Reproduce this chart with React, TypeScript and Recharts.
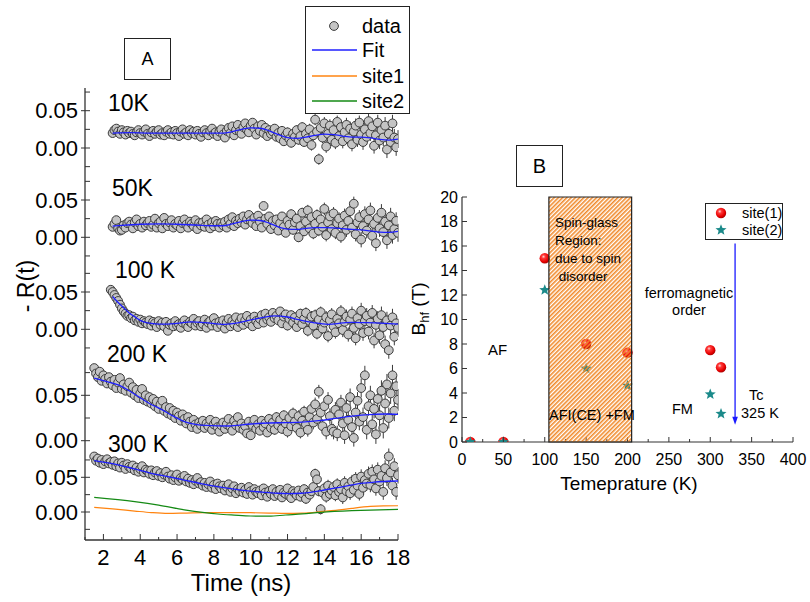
import React from "react";
import {
  ComposedChart,
  Scatter,
  Line,
  XAxis,
  YAxis,
  ErrorBar,
  ReferenceArea,
  ReferenceLine,
  ReferenceDot,
} from "recharts";

const FONT = '"Liberation Sans", Arial, Helvetica, sans-serif';
const AXIS = "#333";

// ---------- panel A : -R(t) spectra (values in 1e-3, one channel every 0.1 ns) ----------
const TEMPS = ["10K", "50K", "100 K", "200 K", "300 K"];
const T_START = [2.5, 2.5, 2.4, 1.5, 1.5];
const T_STEP = 0.1;

const R_10K = [
  20, 24, 26, 22, 19, 24, 21, 18, 23, 20,
  22, 19, 17, 21, 24, 20, 18, 22, 25, 19,
  16, 21, 23, 19, 22, 24, 18, 20, 17, 22,
  24, 19, 21, 18, 23, 20, 16, 22, 25, 19,
  21, 17, 24, 20, 22, 18, 23, 19, 15, 21,
  24, 20, 17, 23, 26, 19, 21, 16, 22, 25,
  18, 14, 23, 27, 20, 29, 17, 24, 31, 22,
  19, 28, 33, 24, 21, 30, 34, 26, 18, 29,
  23, 31, 20, 27, 16, 24, 19, 22, 26, 15,
  20, 13, 23, 9, 17, 21, 12, 7, 19, 15,
  24, 11, 16, 28, 8, 19, 13, 25, 4, 17,
  38, 22, -15, 27, 14, 33, 2, 19, 30, 11,
  24, 7, 35, 16, 28, 9, 21, 31, 13, 26,
  5, 22, 30, 11, 34, 18, 8, 25, 15, 36,
  20, 29, 3, 17, 34, 10, 24, 14, 30, -2,
  19, 8, 33, 14, 1, 12,
];

const R_50K = [
  14, 18, 23, 12, 9, 10, 16, 13, 19, 21,
  17, 12, 20, 24, 15, 18, 13, 21, 16, 19,
  22, 14, 17, 25, 13, 19, 21, 12, 26, 18,
  15, 20, 23, 13, 18, 16, 22, 12, 19, 24,
  17, 13, 21, 18, 15, 23, 11, 19, 16, 20,
  14, 24, 17, 12, 20, 15, 22, 18, 13, 19,
  16, 21, 13, 24, 18, 27, 15, 22, 19, 25,
  20, 28, 17, 24, 30, 22, 19, 26, 15, 29,
  21, 13, 42, 25, 18, 28, 11, 22, 16, 24,
  9, 19, 28, 14, 6, 22, 17, 31, 10, 20,
  25, 0, 15, 33, 8, 21, 36, 12, 27, 5,
  18, 30, 9, 24, 14, 38, 3, 20, 28, 11,
  32, 6, 19, 25, 1, 16, 29, 10, 22, 35,
  13, 45, 4, 20, 27, -3, 15, 31, 9, 24,
  36, 2, 18, -8, 26, 12, 33, 7, 21, -4,
  16, 28, 3, 11, 22, 6,
];

const R_100K = [
  53, 50, 46, 42, 38, 33, 28, 24, 21, 18,
  19, 15, 17, 12, 14, 10, 13, 8, 11, 9,
  7, 12, 5, 10, 8, 3, 11, 6, 9, 4,
  10, -2, 6, 8, 4, 11, 5, 7, 2, 9,
  12, 6, 3, 10, 8, 14, 5, 9, 11, 4,
  7, 13, 2, 9, 11, 5, 15, 8, 3, 10,
  6, 12, 1, 9, 14, 4, 11, 7, 16, 3,
  10, 15, 6, 12, 18, 8, 13, 4, 17, 11,
  7, 14, 19, 9, 21, 13, 16, 10, 22, 15,
  18, 12, 24, 8, 17, 20, 5, 14, 19, 9,
  16, 3, 12, 21, 7, 14, 22, -2, 11, 17,
  5, 19, -6, 13, 23, 1, 9, 16, -9, 12,
  20, 4, -4, 14, 8, 24, -1, 10, 17, -7,
  13, 21, 2, -12, 15, 7, 25, -5, 11, 18,
  -3, 9, 22, -15, 6, 14, -8, 19, 3, -20,
  12, -28, 5, 16, -10, 8, 2,
];

const R_200K = [
  80, 74, 70, 76, 66, 72, 68, 63, 70, 65,
  61, 67, 58, 64, 69, 57, 62, 55, 60, 64,
  53, 59, 50, 56, 47, 52, 57, 45, 50, 43,
  48, 41, 46, 38, 43, 35, 40, 44, 33, 37,
  30, 36, 28, 33, 25, 31, 27, 22, 29, 24,
  19, 26, 21, 15, 23, 18, 13, 20, 17, 22,
  14, 19, 16, 23, 12, 18, 21, 15, 10, 17,
  20, 13, 18, 24, 15, 11, 22, 17, 26, 14,
  19, 12, 16, 8, 21, 6, 17, 23, 13, 18,
  11, 22, 15, 19, 9, 24, 14, 20, 12, 26,
  17, 23, 13, 28, 19, 10, 25, 16, 30, 21,
  14, 27, 9, 22, 32, 18, 12, 26, 35, 20,
  40, 24, 54, 31, 16, 38, 10, 45, 27, 13,
  10, 34, 8, 29, 42, 19, 6, 36, 23, 48,
  15, 3, 31, 44, 21, 58, 26, 72, 12, 38,
  50, 18, 35, 7, 46, 28, 55, 14, 41, 62,
  25, 52, 72, 33, 60, 45,
];

const R_300K = [
  80, 74, 77, 71, 75, 69, 73, 76, 70, 72,
  68, 73, 66, 70, 64, 71, 67, 62, 69, 65,
  63, 67, 60, 64, 58, 62, 66, 57, 61, 59,
  55, 60, 53, 57, 59, 52, 56, 50, 54, 58,
  51, 48, 53, 46, 50, 54, 45, 49, 47, 52,
  44, 48, 42, 46, 40, 45, 49, 41, 43, 38,
  42, 36, 40, 44, 35, 39, 33, 41, 37, 34,
  38, 31, 36, 40, 29, 34, 37, 27, 33, 30,
  35, 28, 32, 26, 36, 30, 25, 33, 29, 27,
  31, 24, 34, 28, 22, 30, 26, 33, 23, 29,
  25, 32, 21, 28, 26, 34, 23, 20, 30, 27,
  24, 31, 22, 27, 33, 19, 28, 25, 30, 36,
  55, 47, 30, 4, 28, 34, 22, 38, 26, 31,
  36, 24, 40, 29, 33, 21, 42, 30, 37, 27,
  44, 32, 48, 38, 26, 51, 35, 46, 41, 55,
  39, 58, 47, 34, 61, 44, 52, 29, 63, 49,
  80, 57, 38, 66, 29, 53,
];

const SPECTRA = [R_10K, R_50K, R_100K, R_200K, R_300K];

// fitted curves, [time ns, value 1e-3]
const FIT_10K = [
  [2.5, 20], [3.5, 20.5], [4.5, 20], [5.5, 20], [6.5, 20], [7.5, 20], [8.5, 20],
  [9, 22], [9.5, 25], [10, 27], [10.5, 26.5], [11, 23], [11.5, 18], [12, 14],
  [12.5, 13], [13, 14.5], [13.5, 17], [14, 18.5], [14.5, 18], [15, 16], [15.5, 14.5],
  [16, 14.5], [16.5, 13.5], [17, 11.5], [17.5, 10.5], [18, 12],
];
const FIT_50K = [
  [2.5, 15], [3, 16], [4, 17.5], [5, 18], [6, 17.5], [7, 16.5], [8, 15.5], [8.5, 15.5],
  [9, 18], [9.5, 21], [10, 23], [10.5, 22.5], [11, 19], [11.5, 14], [12, 11],
  [12.5, 10.5], [13, 12], [13.5, 13], [14, 13], [14.5, 12.5], [15, 11.5], [15.5, 10.5],
  [16, 10], [16.5, 8.5], [17, 7], [17.5, 6.5], [18, 8],
];
const FIT_100K = [
  [2.5, 44], [2.8, 36], [3.1, 29], [3.4, 22], [3.7, 17], [4, 12], [4.4, 8.5], [5, 7],
  [5.5, 7], [6, 8], [6.8, 10], [7.5, 9], [8.6, 6.7], [9.3, 8.5], [10, 12.5], [10.7, 16],
  [11.3, 18], [12, 16.5], [12.6, 13], [13.4, 9], [14.2, 6.7], [15, 8.5], [15.5, 9.4],
  [16.3, 9], [17.3, 8], [18, 7],
];
const FIT_200K = [
  [1.5, 69], [2.2, 65], [2.8, 61.5], [3.4, 55], [3.9, 48.6], [4.5, 41], [5.2, 34],
  [5.8, 27], [6.4, 21], [7, 18], [7.6, 16.8], [8.8, 16.2], [10, 18.4], [11, 19.5],
  [11.9, 19.9], [12.8, 20.5], [13.7, 22], [14.6, 24.5], [15.5, 27], [16.4, 28.8],
  [17.3, 29.4], [18, 29],
];
const FIT_300K = [
  [1.5, 74], [2.8, 68], [3.7, 62], [4.6, 55.8], [5.5, 51], [6.4, 46], [7.3, 41],
  [8.2, 36.6], [9.1, 33], [10, 30], [10.8, 28.3], [11.5, 27], [12.1, 26.6], [12.75, 27],
  [13.4, 29], [14, 31.7], [14.7, 35], [15.5, 39], [16.1, 41.5], [16.7, 43], [17.4, 44.3],
  [18, 44.7],
];
const FITS = [FIT_10K, FIT_50K, FIT_100K, FIT_200K, FIT_300K];

// the two site components of the 300 K fit
const SITE1_300K = [
  [1.5, 6.7], [2.5, 4.5], [3.7, 1.4], [4.6, -0.8], [5.5, -2], [6.5, -1.5], [7.5, -1],
  [8.5, -0.8], [10, -1], [11, -1.5], [11.9, -2], [12.8, -1.5], [13.8, 0.5], [14.8, 3],
  [15.5, 5.3], [16.5, 8], [17.2, 8.8], [18, 9],
];
const SITE2_300K = [
  [1.5, 21], [3.7, 15], [5, 10], [6.4, 3], [7.5, -1], [8.2, -2.9], [9.1, -4.5], [10, -5.8],
  [11, -6], [11.9, -4.3], [12.8, -2.8], [13.8, -0.5], [15.5, 1.9], [16.5, 2.8], [18, 3.8],
];

// error bar half-length (1e-3) for each whole ns
const ERR_BY_NS = [2, 2, 2, 2.5, 2.5, 3, 3, 3.5, 4, 4.5, 5, 5.5, 6.5, 7.5, 8.5, 9.5, 10.5, 11.5, 12];

const TIME_TICKS = [1, 2, 3, 4, 5, 6, 7, 8, 9, 10, 11, 12, 13, 14, 15, 16, 17, 18];
const R_TICKS = [
  [-25, 0, 25, 50, 75],
  [-25, 0, 25, 50, 75],
  [-25, 0, 25, 50, 75],
  [0, 25, 50, 75],
  [-25, 0, 25, 50, 75],
];
const R_LABELS: Record<number, string> = { 0: "0.00", 50: "0.05" };

// where each spectrum sits in the stacked frame (frame units = px from bottom)
const OFFSET = [392, 302.7, 210.7, 99.3, 28];
const GAIN = [746, 746, 746, 908, 694];

// ---------- panel B : hyperfine field vs temperature ----------
const TEMP_K = [10, 50, 100, 150, 200, 300, 313];
const BHF_SITE1 = [0, 0, 15, 8.0, 7.3, 7.5, 6.1];
const BHF_SITE2 = [0, 0, 12.4, 6.0, 4.6, 3.9, 2.3];
const SPIN_GLASS = [105, 205];
const TC_ARROW = { x: 330, from: 16.2, to: 1.4 };
const TEMP_TICKS = [0, 25, 50, 75, 100, 125, 150, 175, 200, 225, 250, 275, 300, 325, 350, 375, 400];
const BHF_TICKS = [0, 2, 4, 6, 8, 10, 12, 14, 16, 18, 20];

// ---------- build tables ----------
const toY = (p: number, v: number) => OFFSET[p] + (v / 1000) * GAIN[p];

const spectra = SPECTRA.map((vals, p) =>
  vals.map((v, i) => {
    const t = Math.round((T_START[p] + i * T_STEP) * 10) / 10;
    return { t, y: toY(p, v), err: (ERR_BY_NS[Math.floor(t)] / 1000) * GAIN[p] };
  })
);
const fits = FITS.map((f, p) => f.map(([t, v]) => ({ t, y: toY(p, v) })));
const site1 = SITE1_300K.map(([t, v]) => ({ t, y: toY(4, v) }));
const site2 = SITE2_300K.map(([t, v]) => ({ t, y: toY(4, v) }));

const yTicksA: number[] = [];
const yLabelA = new Map<number, string>();
R_TICKS.forEach((list, p) =>
  list.forEach((v) => {
    const pos = toY(p, v);
    yTicksA.push(pos);
    if (R_LABELS[v]) yLabelA.set(pos, R_LABELS[v]);
  })
);

const b1 = TEMP_K.map((x, i) => ({ x, y: BHF_SITE1[i] }));
const b2 = TEMP_K.map((x, i) => ({ x, y: BHF_SITE2[i] }));

// plot edges (svg coords)
const A_L = 85, A_B = 540;
const B_L = 62, B_R = 393, B_T = 67, B_B = 312;
const A_MARGIN = { top: 88, right: 22, bottom: 32, left: 25 };
const B_MARGIN = { top: 67, right: 17, bottom: 38, left: 22 };

const starPath = (cx: number, cy: number, R: number, r: number) => {
  let d = "";
  for (let k = 0; k < 10; k++) {
    const a = -Math.PI / 2 + (k * Math.PI) / 5;
    const rad = k % 2 === 0 ? R : r;
    d += (k ? "L" : "M") + (cx + rad * Math.cos(a)).toFixed(2) + "," + (cy + rad * Math.sin(a)).toFixed(2);
  }
  return d + "Z";
};

const dataDot = (p: any) => (
  <circle cx={p.cx} cy={p.cy} r={4.4} fill="#c4c4c4" stroke="#3a3a3a" strokeWidth={1} />
);
const sphere = (p: any) => <circle cx={p.cx} cy={p.cy} r={5.2} fill="url(#sphere)" />;
const star = (p: any) => <path d={starPath(p.cx, p.cy, 5.8, 2.5)} fill="#1b8a8a" />;

const aLeftTick = (props: any) => {
  const { y, payload } = props;
  const label = yLabelA.get(payload.value);
  return (
    <g>
      <line x1={label ? A_L - 4 : A_L} x2={A_L + 5} y1={y} y2={y} stroke={AXIS} strokeWidth={1} />
      {label && (
        <text x={A_L - 7} y={y} textAnchor="end" dominantBaseline="central" fontSize={22} fontFamily={FONT} fill="#000">
          {label}
        </text>
      )}
    </g>
  );
};
const aTimeTick = (props: any) => {
  const { x, payload } = props;
  const major = payload.value % 2 === 0;
  return (
    <g>
      <line x1={x} x2={x} y1={A_B} y2={A_B - (major ? 6 : 3)} stroke={AXIS} strokeWidth={1} />
      {major && (
        <text x={x} y={A_B + 17} textAnchor="middle" dominantBaseline="central" fontSize={22} fontFamily={FONT} fill="#000">
          {payload.value}
        </text>
      )}
    </g>
  );
};

const bLeftTick = (props: any) => {
  const { y, payload } = props;
  return (
    <g>
      <line x1={B_L} x2={B_L + 5} y1={y} y2={y} stroke={AXIS} />
      <text x={B_L - 4} y={y} textAnchor="end" dominantBaseline="central" fontSize={16} fontFamily={FONT} fill="#000">
        {payload.value}
      </text>
    </g>
  );
};
const bRightTick = (props: any) => (
  <line x1={B_R - 5} x2={B_R} y1={props.y} y2={props.y} stroke={AXIS} />
);
const bBottomTick = (props: any) => {
  const { x, payload } = props;
  const major = payload.value % 50 === 0;
  return (
    <g>
      <line x1={x} x2={x} y1={B_B} y2={B_B - (major ? 5 : 3)} stroke={AXIS} />
      {major && (
        <text x={x} y={B_B + 17} textAnchor="middle" dominantBaseline="central" fontSize={16} fontFamily={FONT} fill="#000">
          {payload.value}
        </text>
      )}
    </g>
  );
};
const bTopTick = (props: any) => {
  const major = props.payload.value % 50 === 0;
  return <line x1={props.x} x2={props.x} y1={B_T} y2={B_T + (major ? 5 : 3)} stroke={AXIS} />;
};

const txt = (s: any, left: number, cy: number, size: number) => (
  <div
    style={{
      position: "absolute",
      left,
      top: cy,
      transform: "translateY(-50%)",
      fontSize: size,
      lineHeight: 1,
      whiteSpace: "pre",
    }}
  >
    {s}
  </div>
);
const ctxt = (s: any, cx: number, cy: number, size: number, rot = 0) => (
  <div
    style={{
      position: "absolute",
      left: cx,
      top: cy,
      transform: `translate(-50%,-50%) rotate(${rot}deg)`,
      fontSize: size,
      lineHeight: 1,
      whiteSpace: "nowrap",
    }}
  >
    {s}
  </div>
);

const LABEL_POS = [
  [108, 103],
  [112, 188],
  [115, 270],
  [107, 354],
  [108, 444],
];

const overlay: React.CSSProperties = { position: "absolute", left: 0, top: 0, pointerEvents: "none" };

const App = () => (
  <div
    style={{
      position: "absolute",
      left: 0,
      top: 0,
      width: 810,
      height: 602,
      background: "#fff",
      fontFamily: FONT,
      color: "#000",
      overflow: "hidden",
    }}
  >
    <svg width={0} height={0} style={{ position: "absolute" }}>
      <defs>
        <pattern id="hatch" patternUnits="userSpaceOnUse" width={3} height={3} patternTransform="rotate(45)">
          <rect x={0} y={0} width={1.6} height={3} fill="#f08a2c" />
        </pattern>
        <radialGradient id="sphere" cx="0.38" cy="0.35" r="0.7">
          <stop offset="0%" stopColor="#ffd6d6" />
          <stop offset="25%" stopColor="#ff3a3a" />
          <stop offset="70%" stopColor="#e60000" />
          <stop offset="100%" stopColor="#a00000" />
        </radialGradient>
      </defs>
    </svg>

    {/* panel A: markers and frame */}
    <div style={{ position: "absolute", left: 0, top: 0 }}>
      <ComposedChart width={420} height={602} margin={A_MARGIN}>
        <XAxis
          dataKey="t"
          type="number"
          domain={[1, 18]}
          ticks={TIME_TICKS}
          interval={0}
          allowDataOverflow
          height={30}
          tickLine={false}
          tick={aTimeTick}
          axisLine={{ stroke: AXIS, strokeWidth: 1.3 }}
        />
        <XAxis
          xAxisId="top"
          orientation="top"
          type="number"
          domain={[1, 18]}
          height={0}
          tick={false}
          tickLine={false}
          axisLine={{ stroke: AXIS, strokeWidth: 1.3 }}
        />
        <YAxis
          dataKey="y"
          type="number"
          domain={[0, 452]}
          ticks={yTicksA}
          interval={0}
          allowDataOverflow
          width={60}
          tickLine={false}
          tick={aLeftTick}
          axisLine={{ stroke: AXIS, strokeWidth: 1.3 }}
        />
        <YAxis
          yAxisId="r"
          orientation="right"
          type="number"
          domain={[0, 452]}
          width={0}
          tick={false}
          tickLine={false}
          axisLine={{ stroke: AXIS, strokeWidth: 1.3 }}
        />
        {spectra.map((d, p) => (
          <Scatter key={TEMPS[p]} data={d} dataKey="y" isAnimationActive={false} shape={dataDot}>
            <ErrorBar dataKey="err" direction="y" width={0} stroke="#3a3a3a" strokeWidth={1} />
          </Scatter>
        ))}
      </ComposedChart>
    </div>

    {/* panel A: fitted curves on top of the markers */}
    <div style={overlay}>
      <ComposedChart width={420} height={602} margin={A_MARGIN}>
        <XAxis dataKey="t" type="number" domain={[1, 18]} allowDataOverflow height={30} tick={false} tickLine={false} axisLine={false} />
        <YAxis dataKey="y" type="number" domain={[0, 452]} allowDataOverflow width={60} tick={false} tickLine={false} axisLine={false} />
        <Line data={site1} dataKey="y" type="monotone" stroke="#ff8410" strokeWidth={1.2} dot={false} isAnimationActive={false} />
        <Line data={site2} dataKey="y" type="monotone" stroke="#158a15" strokeWidth={1.2} dot={false} isAnimationActive={false} />
        {fits.map((d, p) => (
          <Line
            key={"fit" + p}
            data={d}
            dataKey="y"
            type="monotone"
            stroke="#1f1fff"
            strokeWidth={1.3}
            dot={false}
            isAnimationActive={false}
          />
        ))}
      </ComposedChart>
    </div>

    {TEMPS.map((s, p) => (
      <React.Fragment key={s}>{txt(s, LABEL_POS[p][0], LABEL_POS[p][1], 23)}</React.Fragment>
    ))}
    {ctxt("- R(t)", 26, 286, 23, -90)}
    {ctxt("Time (ns)", 241, 583, 24)}

    <div
      style={{
        position: "absolute",
        left: 124,
        top: 38,
        width: 45,
        height: 40,
        border: "1.5px solid #222",
        background: "#fff",
        display: "flex",
        alignItems: "center",
        justifyContent: "center",
        fontSize: 18,
      }}
    >
      A
    </div>

    <div
      style={{
        position: "absolute",
        left: 305,
        top: 6,
        width: 103,
        height: 106,
        border: "1px solid #222",
        background: "#fff",
      }}
    >
      <svg width={56} height={106} style={{ position: "absolute", left: 0, top: 0 }}>
        <circle cx={28} cy={19} r={4.4} fill="#c4c4c4" stroke="#3a3a3a" />
        <line x1={6} x2={51} y1={43} y2={43} stroke="#1f1fff" strokeWidth={1.3} />
        <line x1={6} x2={51} y1={69} y2={69} stroke="#ff8410" strokeWidth={1.3} />
        <line x1={6} x2={51} y1={94} y2={94} stroke="#158a15" strokeWidth={1.3} />
      </svg>
      {txt("data", 56, 19, 20)}
      {txt("Fit", 56, 43, 20)}
      {txt("site1", 56, 69, 20)}
      {txt("site2", 56, 94, 20)}
    </div>

    {/* panel B: points and frame */}
    <div style={{ position: "absolute", left: 400, top: 130 }}>
      <ComposedChart width={410} height={380} margin={B_MARGIN}>
        <XAxis
          dataKey="x"
          type="number"
          domain={[0, 400]}
          ticks={TEMP_TICKS}
          interval={0}
          allowDataOverflow
          height={30}
          tickLine={false}
          tick={bBottomTick}
          axisLine={{ stroke: AXIS, strokeWidth: 1.2 }}
        />
        <XAxis
          xAxisId="top"
          orientation="top"
          type="number"
          domain={[0, 400]}
          ticks={TEMP_TICKS}
          interval={0}
          height={0}
          tickLine={false}
          tick={bTopTick}
          axisLine={{ stroke: AXIS, strokeWidth: 1.2 }}
        />
        <YAxis
          dataKey="y"
          type="number"
          domain={[0, 20]}
          ticks={BHF_TICKS}
          interval={0}
          allowDataOverflow
          width={40}
          tickLine={false}
          tick={bLeftTick}
          axisLine={{ stroke: AXIS, strokeWidth: 1.2 }}
        />
        <YAxis
          yAxisId="r"
          orientation="right"
          type="number"
          domain={[0, 20]}
          ticks={BHF_TICKS}
          interval={0}
          width={0}
          tickLine={false}
          tick={bRightTick}
          axisLine={{ stroke: AXIS, strokeWidth: 1.2 }}
        />
        <Scatter data={b1} dataKey="y" isAnimationActive={false} shape={sphere} />
        <Scatter data={b2} dataKey="y" isAnimationActive={false} shape={star} />
      </ComposedChart>
    </div>

    {/* panel B: hatched spin-glass region and Tc arrow, drawn over the points */}
    <div style={{ ...overlay, left: 400, top: 130 }}>
      <ComposedChart width={410} height={380} margin={B_MARGIN}>
        <XAxis dataKey="x" type="number" domain={[0, 400]} allowDataOverflow height={30} tick={false} tickLine={false} axisLine={false} />
        <YAxis dataKey="y" type="number" domain={[0, 20]} allowDataOverflow width={40} tick={false} tickLine={false} axisLine={false} />
        <ReferenceArea
          x1={SPIN_GLASS[0]}
          x2={SPIN_GLASS[1]}
          y1={0}
          y2={20}
          fill="url(#hatch)"
          fillOpacity={1}
          stroke="#222"
          strokeWidth={1.2}
        />
        <ReferenceLine
          segment={[
            { x: TC_ARROW.x, y: TC_ARROW.from },
            { x: TC_ARROW.x, y: TC_ARROW.to + 0.6 },
          ]}
          stroke="#1a1aff"
          strokeWidth={1.3}
        />
        <ReferenceDot
          x={TC_ARROW.x}
          y={TC_ARROW.to}
          r={3}
          shape={(p: any) => (
            <path d={`M${p.cx - 2.8},${p.cy - 8} L${p.cx + 2.8},${p.cy - 8} L${p.cx},${p.cy} Z`} fill="#1a1aff" />
          )}
        />
      </ComposedChart>
    </div>

    {ctxt(
      <span>
        B<sub style={{ fontSize: 13 }}>hf</sub> (T)
      </span>,
      420,
      309,
      19,
      -90
    )}
    {ctxt("Temeprature (K)", 629, 483, 19)}

    <div
      style={{
        position: "absolute",
        left: 516,
        top: 145,
        width: 45,
        height: 40,
        border: "1.5px solid #222",
        background: "#fff",
        display: "flex",
        alignItems: "center",
        justifyContent: "center",
        fontSize: 20,
      }}
    >
      B
    </div>

    <div
      style={{
        position: "absolute",
        left: 705,
        top: 203,
        width: 76,
        height: 35,
        border: "1px solid #222",
        background: "#fff",
      }}
    >
      <svg width={30} height={35} style={{ position: "absolute", left: 0, top: 0 }}>
        <circle cx={15} cy={9} r={5.2} fill="url(#sphere)" />
        <path d={starPath(15, 26, 5.8, 2.5)} fill="#1b8a8a" />
      </svg>
      {txt("site(1)", 36, 9, 14.5)}
      {txt("site(2)", 36, 26, 14.5)}
    </div>

    {txt("AF", 488, 349, 15)}
    {txt("Spin-glass", 555, 223, 13.5)}
    {txt("Region:", 555, 240.5, 13.5)}
    {txt("due to spin", 555, 258.5, 13.5)}
    {txt(" disorder", 555, 277, 13.5)}
    {ctxt("ferromagnetic", 689, 293, 14.5)}
    {ctxt("order", 689, 310, 14.5)}
    {txt("FM", 672, 409, 14.5)}
    {txt("Tc", 749, 395, 14.5)}
    {txt("325 K", 741, 413, 14.5)}
    {txt("AFI(CE) +FM", 549, 415, 14.5)}
  </div>
);

export default App;
